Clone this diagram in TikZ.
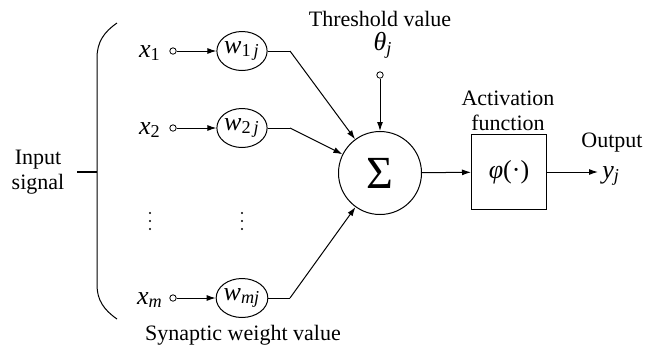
\documentclass[tikz,border=0pt]{standalone}
\usepackage{fontspec}
\setmainfont{LiberationSerif}[Extension=.ttf,UprightFont=*-Regular,ItalicFont=*-Italic,BoldFont=*-Bold,BoldItalicFont=*-BoldItalic]
\usetikzlibrary{shapes.geometric,arrows.meta}
\newcommand{\sym}[2]{\textit{#1}\textsubscript{#2}}

\begin{document}
\begin{tikzpicture}[x=0.5pt,y=-0.5pt, font=\fontsize{11}{12.5}\selectfont,
	weight/.style={ellipse,draw,line width=0.5pt,minimum width=25pt,minimum height=19.5pt,inner sep=0pt,font=\fontsize{13}{14}\selectfont},
	term/.style={circle,draw,fill=white,line width=0.4pt,minimum size=3.2pt,inner sep=0pt},
	var/.style={font=\fontsize{13}{14}\selectfont,inner sep=1pt},
	wire/.style={line width=0.5pt},
	sig/.style={wire,-{Latex[length=4.5pt,width=3pt]}}]
			\useasboundingbox (0,0) rectangle (654,350);
			% input side
			\node[align=center] (insig) at (38,172) {Input\\signal};
			\coordinate (tick) at (77,172);
			\coordinate (brace) at (97,172);
			\draw[wire] (117,23) .. controls (104,32) and (97,42) .. (97,58) -- (97,285) .. controls (97,300) and (104,310) .. (117,319);
			\draw[line width=1.1pt] (tick) -- (brace);
			\node[var] (x1) at (150,53) {\sym{x}{1}};
			\node[var] (x2) at (150,130) {\sym{x}{2}};
			\node[var] (xm) at (150,300) {\sym{x}{\textit{m}}};
			\node[term] (p1) at (173,51) {};
			\node[term] (p2) at (173,128) {};
			\node[term] (pm) at (173,298) {};
			\node[weight] (w1) at (242,51) {\sym{w}{1\,\textit{j}}};
			\node[weight] (w2) at (242,128) {\sym{w}{2\,\textit{j}}};
			\node[weight] (wm) at (242,298) {\sym{w}{\textit{mj}}};
			% vertical dots
			\fill (150,213) circle (0.55pt) (150,221) circle (0.55pt) (150,229) circle (0.55pt);
			\fill (242,213) circle (0.55pt) (242,221) circle (0.55pt) (242,229) circle (0.55pt);
			\node (synlab) at (243,335) {Synaptic weight value};
			\draw[sig] (p1) -- (w1);
			\draw[sig] (p2) -- (w2);
			\draw[sig] (pm) -- (wm);
			% summation
			\node[circle,draw,line width=0.5pt,minimum size=41.5pt,inner sep=0pt,font=\fontsize{23}{24}\selectfont] (sum) at (380,173) {Σ};
			\coordinate (k1) at (290,51);
			\coordinate (k2) at (290,128);
			\coordinate (km) at (290,298);
			\draw[wire] (w1) -- (k1);
			\draw[wire] (w2) -- (k2);
			\draw[wire] (wm) -- (km);
			\draw[sig] (k1) -- (sum);
			\draw[sig] (k2) -- (sum);
			\draw[sig] (km) -- (sum);
			\node (thlab) at (380,19) {Threshold value};
			\node[var] (theta) at (383,45) {\sym{θ}{\textit{j}}};
			\node[term] (pt) at (380,75) {};
			\draw[sig] (pt) -- (sum);
			% activation and output
			\node[draw,line width=0.5pt,minimum size=37.5pt,inner sep=0pt,font=\fontsize{13}{14}\selectfont] (act) at (509,172) {\textit{φ}(·)};
			\node[align=center] (actlab) at (508,111) {Activation\\function};
			\node (outlab) at (612,143) {Output};
			\node[var,anchor=west,inner sep=0pt] (y) at (602,176) {\sym{y}{\textit{j}}};
			\draw[sig] (sum) -- (act);
			\draw[sig] (act.east) -- ([xshift=-2pt]act.east -| y.west);
	\end{tikzpicture}
\end{document}
